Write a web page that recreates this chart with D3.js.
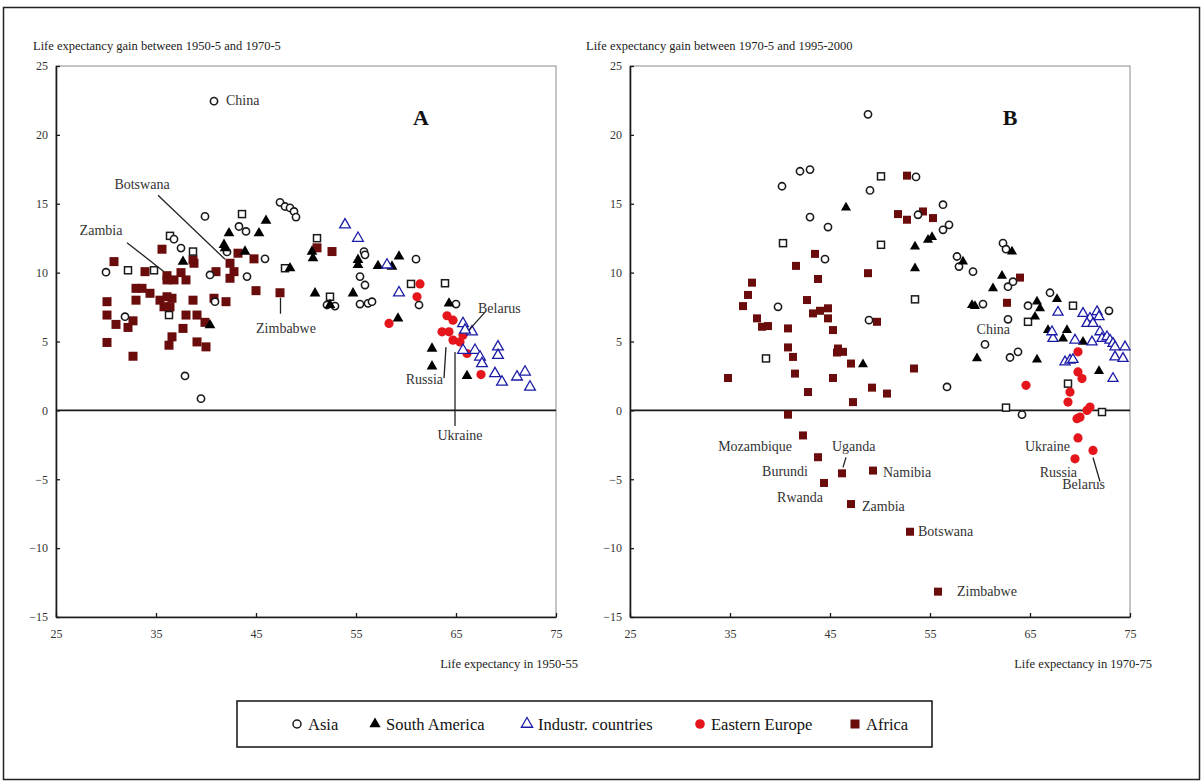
<!DOCTYPE html>
<html>
<head>
<meta charset="utf-8">
<script src="https://cdn.jsdelivr.net/npm/d3@7"></script>
<style>
  body { margin: 0; background: #fff; }
  svg { font-family: "Liberation Serif", "Times New Roman", serif; }
</style>
</head>
<body>
<svg id="chart" width="1204" height="783"></svg>
<script>
// ---- data: [life expectancy at start, gain] ----

// Panel A: 1950-55 -> gain to 1970-5
const asiaA = [[40.8,22.45],[39.9,14.08],[43.3,13.35],[44.0,12.99],[47.4,15.1],[47.9,14.8],[48.4,14.7],[48.8,14.44],[49.0,14.03],
  [36.8,12.43],[37.5,11.78],[42.1,11.5],[45.9,11.0],[30.0,10.03],[40.4,9.83],[44.1,9.71],[31.9,6.8],[40.9,7.89],[37.9,2.5],[39.5,0.85],
  [55.8,11.53],[55.9,11.29],[61.0,10.98],[55.4,9.71],[55.9,9.1],[52.1,7.65],[52.9,7.57],[55.4,7.72],[56.2,7.77],[56.6,7.89],[65.0,7.72],[61.3,7.65]];
const asiaSqA = [[43.6,14.25],[36.4,12.67],[38.7,11.53],[32.2,10.17],[34.8,10.17],[47.9,10.32],[36.3,6.92],[51.1,12.5],[52.4,8.25],[60.5,9.18],[63.9,9.23]];
const southAmA = [[46.0,13.77],[45.3,12.87],[42.3,12.87],[41.8,12.02],[41.9,11.78],[43.9,11.53],[37.7,10.8],[48.4,10.32],[40.4,6.19],
  [50.7,11.05],[50.6,11.53],[50.9,8.5],[54.7,8.5],[55.2,10.93],[55.2,10.56],[57.2,10.49],[58.6,10.44],[59.3,11.17],[52.4,7.65],
  [59.2,6.68],[64.3,7.77],[62.6,4.49],[62.6,3.2],[66.1,2.5]];
const industrA = [[53.9,13.47],[55.2,12.5],[58.1,10.56],[59.3,8.54],[65.7,6.31],[66.6,5.7],[65.9,5.83],[65.7,4.37],[66.9,4.37],
  [67.4,3.88],[67.6,3.4],[69.2,4.61],[69.2,4.0],[68.9,2.67],[69.6,2.06],[71.1,2.43],[71.9,2.79],[72.4,1.7]];
const eastEuA = [[61.4,9.18],[61.1,8.25],[58.3,6.31],[64.1,6.87],[64.7,6.55],[63.6,5.7],[64.3,5.7],[64.7,5.1],[65.4,4.97],[65.7,5.46],[66.1,4.13],[67.5,2.6]];
const africaA = [[35.6,11.7],[30.8,10.8],[38.7,10.93],[38.8,10.68],[43.2,11.41],[44.8,11.0],[42.4,10.68],[42.8,10.07],[42.4,9.59],[41.0,10.07],
  [33.9,10.07],[36.1,9.78],[36.8,9.47],[37.5,10.0],[38.0,9.47],[36.1,9.47],[45.0,8.69],[47.4,8.54],[33.0,8.86],[33.6,8.86],[34.4,8.5],
  [30.1,7.89],[33.0,8.0],[35.4,8.0],[36.1,8.25],[36.6,8.14],[35.8,7.52],[36.4,7.52],[38.7,8.0],[40.8,8.14],[42.0,7.89],[30.1,6.92],
  [31.0,6.24],[32.7,6.5],[32.2,6.02],[38.0,6.92],[39.1,6.92],[39.9,6.39],[37.7,5.95],[36.6,5.34],[36.3,4.73],[30.1,4.93],[39.1,4.97],
  [40.0,4.61],[32.7,3.93],[51.1,11.8],[52.6,11.53]];

// Panel B: 1970-75 -> gain to 1995-2000
const asiaB = [[48.8,21.49],[42.0,17.36],[43.0,17.48],[40.2,16.27],[49.0,15.97],[53.6,16.95],[43.0,14.03],[44.8,13.31],[44.5,10.98],
  [39.8,7.52],[48.9,6.55],[53.8,14.2],[56.3,14.93],[56.3,13.11],[56.9,13.47],[62.3,12.14],[62.6,11.7],[57.7,11.17],[57.9,10.44],
  [59.3,10.07],[62.8,8.98],[63.3,9.34],[60.3,7.72],[67.0,8.54],[72.9,7.23],[62.8,6.61],[60.5,4.79],[63.0,3.84],[63.8,4.25],
  [56.7,1.7],[64.2,-0.31],[64.8,7.6]];
const asiaSqB = [[50.1,16.99],[40.3,12.14],[50.1,12.02],[53.5,8.06],[38.6,3.77],[69.3,7.6],[64.8,6.43],[68.8,1.94],[62.6,0.2],[72.2,-0.12]];
const southAmB = [[46.6,14.73],[53.5,11.89],[53.5,10.32],[48.3,3.35],[55.2,12.58],[54.8,12.38],[58.3,10.8],[63.2,11.53],[62.2,9.76],
  [61.3,8.86],[59.2,7.65],[59.5,7.57],[65.7,7.89],[66.0,7.41],[65.5,6.8],[67.7,8.08],[66.8,5.83],[68.7,5.83],[68.3,5.22],[70.3,4.97],
  [59.7,3.77],[65.7,3.69],[71.9,2.86]];
const industrB = [[67.8,7.12],[70.3,7.04],[71.0,6.68],[70.7,6.31],[71.3,6.31],[71.7,7.16],[71.9,6.8],[67.3,5.22],[67.2,5.7],[69.5,5.1],
  [71.2,4.97],[72.0,5.7],[72.2,5.22],[72.7,5.34],[73.0,5.1],[73.3,4.86],[73.5,4.61],[74.5,4.61],[73.5,3.88],[74.3,3.77],[68.5,3.52],
  [69.0,3.64],[69.3,3.69],[73.3,2.31]];
const eastEuB = [[69.8,4.25],[69.8,2.79],[70.2,2.31],[64.6,1.82],[69.0,1.33],[68.8,0.6],[70.0,-0.49],[70.7,0.0],[71.0,0.24],[69.7,-0.6],
  [69.8,-2.0],[71.3,-2.91],[69.5,-3.52]];
const africaB = [[52.7,17.04],[51.8,14.25],[52.7,13.84],[54.3,14.44],[55.3,13.96],[64.0,9.64],[62.7,7.81],[43.5,11.36],[41.6,10.49],
  [43.8,9.54],[48.8,9.96],[37.2,9.27],[36.8,8.38],[36.3,7.57],[37.7,6.68],[38.2,6.07],[38.8,6.12],[40.8,5.95],[42.7,8.01],[43.3,7.04],
  [44.0,7.23],[44.8,7.41],[44.8,6.68],[45.3,5.83],[40.8,4.57],[41.3,3.88],[45.8,4.49],[46.3,4.25],[45.7,4.2],[47.1,3.4],[41.5,2.67],
  [45.3,2.35],[34.8,2.35],[42.8,1.33],[49.2,1.65],[50.7,1.22],[47.3,0.6],[40.8,-0.31],[49.7,6.43],[53.4,3.04],
  [42.3,-1.82],[43.8,-3.4],[46.2,-4.57],[49.3,-4.37],[44.4,-5.27],[47.1,-6.8],[53.0,-8.81],[55.8,-13.16]];

// named countries and the point each label belongs to
const countriesA = ["China", "Botswana", "Zambia", "Zimbabwe", "Belarus", "Russia", "Ukraine"];
const countryPtsA = [[40.8,22.45],[42.4,10.68],[36.1,9.78],[47.4,8.54],[65.7,5.46],[64.7,5.1],[65.4,4.97]];
const countriesB = ["China", "Mozambique", "Uganda", "Burundi", "Namibia", "Rwanda", "Zambia", "Botswana", "Zimbabwe", "Ukraine", "Russia", "Belarus"];
const countryPtsB = [[62.8,6.61],[42.3,-1.82],[46.2,-4.57],[43.8,-3.4],[49.3,-4.37],[44.4,-5.27],[47.1,-6.8],[53.0,-8.81],[55.8,-13.16],[69.8,-2.0],[69.5,-3.52],[71.3,-2.91]];

const xTicks = [25, 35, 45, 55, 65, 75];
const yTicks = [-15, -10, -5, 0, 5, 10, 15, 20, 25];
const legendNames = ["Asia", "South America", "Industr. countries", "Eastern Europe", "Africa"];

// ---- drawing ----
const svg = d3.select("#chart");
const INK = "#1a1a1a";
const AFRICA = "#6b0c0c";
const RED = "#e5151c";
const BLUE = "#1b1ba6";

// outer frame
svg.append("rect")
  .attr("x", 3.5).attr("y", 7.5).attr("width", 1196).attr("height", 772)
  .attr("fill", "none").attr("stroke", "#222").attr("stroke-width", 1.5);

const y = d3.scaleLinear().domain([-15, 25]).range([617, 66]);

// label placement per panel (pixel offsets from the labelled point)
const layoutA = {
  China:    { dx: 12, dy: 4, anchor: "start" },
  Botswana: { dx: -88, dy: -74, anchor: "middle", line: [[-72, -68], [-5, -4]] },
  Zambia:   { dx: -66, dy: -41, anchor: "middle", line: [[-40, -33], [-3, -4]] },
  Zimbabwe: { dx: 6, dy: 40, anchor: "middle", line: [[0.5, 5], [0.5, 21]] },
  Belarus:  { dx: 15, dy: -22, anchor: "start", line: [[22, -23], [6, -5]] },
  Russia:   { dx: -10, dy: 44, anchor: "end", line: [[-9, 38], [-7, 7]] },
  Ukraine:  { dx: 0, dy: 98, anchor: "middle", line: [[-5, 10], [-5, 84]] }
};
const layoutB = {
  China:      { dx: 2, dy: 15, anchor: "end" },
  Mozambique: { dx: -11, dy: 16, anchor: "end" },
  Uganda:     { dx: -10, dy: -22, anchor: "start", line: [[4, -16], [1, -6]] },
  Burundi:    { dx: -10, dy: 19, anchor: "end" },
  Namibia:    { dx: 10, dy: 6, anchor: "start" },
  Rwanda:     { dx: -1, dy: 19, anchor: "end" },
  Zambia:     { dx: 11, dy: 7, anchor: "start" },
  Botswana:   { dx: 8, dy: 4, anchor: "start" },
  Zimbabwe:   { dx: 19, dy: 4, anchor: "start" },
  Ukraine:    { dx: -8, dy: 13, anchor: "end" },
  Russia:     { dx: 2, dy: 18, anchor: "end" },
  Belarus:    { dx: 12, dy: 39, anchor: "end", line: [[0, 7], [7, 31]] }
};

const tri = d3.symbol().type(d3.symbolTriangle);

function drawMarks(g, x, groups, big) {
  const sq = big ? 9 : 8;
  g.append("g").selectAll("rect").data(groups.africa).join("rect")
    .attr("x", d => x(d[0]) - sq / 2).attr("y", d => y(d[1]) - sq / 2)
    .attr("width", sq).attr("height", sq).attr("fill", AFRICA);
  g.append("g").selectAll("rect").data(groups.asiaSq).join("rect")
    .attr("x", d => x(d[0]) - 3.5).attr("y", d => y(d[1]) - 3.5)
    .attr("width", 7).attr("height", 7)
    .attr("fill", "#fff").attr("stroke", INK).attr("stroke-width", 1.5);
  g.append("g").selectAll("circle").data(groups.asia).join("circle")
    .attr("cx", d => x(d[0])).attr("cy", d => y(d[1])).attr("r", 3.6)
    .attr("fill", "#fff").attr("stroke", INK).attr("stroke-width", 1.6);
  g.append("g").selectAll("circle").data(groups.eastEu).join("circle")
    .attr("cx", d => x(d[0])).attr("cy", d => y(d[1])).attr("r", 4.6)
    .attr("fill", RED);
  g.append("g").selectAll("path").data(groups.southAm).join("path")
    .attr("d", tri.size(big ? 50 : 44))
    .attr("transform", d => `translate(${x(d[0])},${y(d[1])})`)
    .attr("fill", "#000");
  g.append("g").selectAll("path").data(groups.industr).join("path")
    .attr("d", tri.size(big ? 50 : 44))
    .attr("transform", d => `translate(${x(d[0])},${y(d[1])})`)
    .attr("fill", "#fff").attr("stroke", BLUE).attr("stroke-width", 1.3);
}

function drawPanel(opt) {
  const x = d3.scaleLinear().domain([25, 75]).range(opt.range);
  const g = svg.append("g");
  const [x0, x1] = opt.range;

  // plot frame (thin grey on top/right)
  g.append("rect")
    .attr("x", x0).attr("y", y(25)).attr("width", x1 - x0).attr("height", y(-15) - y(25))
    .attr("fill", "none").attr("stroke", "#8a8a8a").attr("stroke-width", 1);

  const yAxis = g.append("g")
    .attr("transform", `translate(${x0},0)`)
    .call(d3.axisLeft(y).tickValues(yTicks).tickSizeInner(-4).tickSizeOuter(0).tickPadding(8));
  const xAxis = g.append("g")
    .attr("transform", `translate(0,${y(-15)})`)
    .call(d3.axisBottom(x).tickValues(xTicks).tickSizeInner(-4).tickSizeOuter(0).tickPadding(12));
  [xAxis, yAxis].forEach(a => {
    a.select(".domain").attr("stroke", INK).attr("stroke-width", 1.6);
    a.selectAll(".tick line").attr("stroke", INK).attr("stroke-width", 1.3);
    a.selectAll("text").attr("font-family", "Liberation Serif, serif").attr("font-size", 12).attr("fill", "#333");
  });

  // zero line
  g.append("line")
    .attr("x1", x0).attr("x2", x1).attr("y1", y(0)).attr("y2", y(0))
    .attr("stroke", INK).attr("stroke-width", 1.6);

  // axis titles
  g.append("text").attr("x", opt.yTitleX).attr("y", 50)
    .attr("font-size", 12.5).attr("fill", "#222").text(opt.yTitle);
  g.append("text").attr("x", x1 + 22).attr("y", 668).attr("text-anchor", "end")
    .attr("font-size", 12.5).attr("fill", "#222").text(opt.xTitle);

  // panel letter
  g.append("text").attr("x", x(opt.letterAt[0])).attr("y", y(opt.letterAt[1]))
    .attr("text-anchor", "middle").attr("font-size", 22).attr("font-weight", "bold")
    .attr("fill", "#111").text(opt.letter);

  drawMarks(g, x, opt.groups, opt.big);

  // country labels
  opt.names.forEach((name, i) => {
    const p = opt.points[i];
    const px = x(p[0]), py = y(p[1]);
    const L = opt.layout[name];
    if (L.line) {
      g.append("line")
        .attr("x1", px + L.line[0][0]).attr("y1", py + L.line[0][1])
        .attr("x2", px + L.line[1][0]).attr("y2", py + L.line[1][1])
        .attr("stroke", "#222").attr("stroke-width", 1.3);
    }
    g.append("text")
      .attr("x", px + L.dx).attr("y", py + L.dy)
      .attr("text-anchor", L.anchor)
      .attr("font-size", 14).attr("fill", "#333")
      .text(name);
  });
}

drawPanel({
  range: [56, 556], letter: "A", letterAt: [61.5, 20.7], big: true,
  yTitle: "Life expectancy gain between 1950-5 and 1970-5", yTitleX: 33,
  xTitle: "Life expectancy in 1950-55",
  groups: { asia: asiaA, asiaSq: asiaSqA, southAm: southAmA, industr: industrA, eastEu: eastEuA, africa: africaA },
  names: countriesA, points: countryPtsA, layout: layoutA
});
drawPanel({
  range: [630, 1130], letter: "B", letterAt: [63, 20.7], big: false,
  yTitle: "Life expectancy gain between 1970-5 and 1995-2000", yTitleX: 586,
  xTitle: "Life expectancy in 1970-75",
  groups: { asia: asiaB, asiaSq: asiaSqB, southAm: southAmB, industr: industrB, eastEu: eastEuB, africa: africaB },
  names: countriesB, points: countryPtsB, layout: layoutB
});

// ---- legend ----
const leg = svg.append("g");
leg.append("rect").attr("x", 237).attr("y", 701).attr("width", 695).attr("height", 46)
  .attr("fill", "#fff").attr("stroke", "#111").attr("stroke-width", 1.5);
const legX = [297, 375, 527, 700, 855];
const ly = 724;
legendNames.forEach((name, i) => {
  const cx = legX[i];
  if (i === 0) leg.append("circle").attr("cx", cx).attr("cy", ly).attr("r", 4)
    .attr("fill", "#fff").attr("stroke", INK).attr("stroke-width", 1.5);
  if (i === 1) leg.append("path").attr("d", tri.size(55)).attr("transform", `translate(${cx},${ly})`).attr("fill", "#000");
  if (i === 2) leg.append("path").attr("d", tri.size(55)).attr("transform", `translate(${cx},${ly})`)
    .attr("fill", "#fff").attr("stroke", BLUE).attr("stroke-width", 1.3);
  if (i === 3) leg.append("circle").attr("cx", cx).attr("cy", ly).attr("r", 4.8).attr("fill", RED);
  if (i === 4) leg.append("rect").attr("x", cx - 4.5).attr("y", ly - 4.5).attr("width", 9).attr("height", 9).attr("fill", AFRICA);
  leg.append("text").attr("x", cx + 11).attr("y", ly + 5.5)
    .attr("font-size", 16.5).attr("fill", "#111").text(name);
});
</script>
</body>
</html>
